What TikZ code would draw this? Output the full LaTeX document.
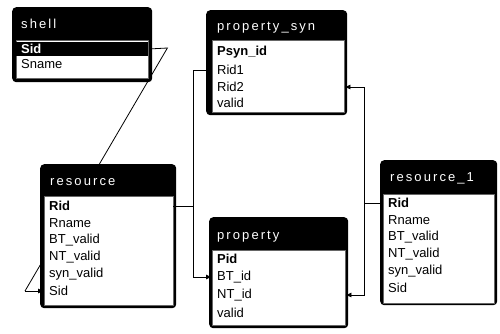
\documentclass[tikz,border=0pt]{standalone}
\usepackage{fontspec}
\setmainfont{Liberation Sans}
\newfontfamily\titlefont[LetterSpace=16]{Liberation Sans}
\usetikzlibrary{arrows.meta,backgrounds}

\tikzset{
  tablebox/.style={fill=black, rounded corners=4pt, inner sep=0pt, anchor=north west},
  fieldarea/.style={fill=white, draw=black!60, line width=0.6pt, inner sep=0pt, anchor=north west},
  tabletitle/.style={text=white, font=\titlefont\fontsize{13}{13}\selectfont, inner sep=0pt, anchor=west},
  field/.style={font=\fontsize{13}{13}\selectfont, inner xsep=5pt, inner ysep=0pt,
                minimum height=15pt, align=left, anchor=west},
  keyfield/.style={field, font=\bfseries\fontsize{13}{13}\selectfont},
  link/.style={draw=black, line width=0.8pt},
  fk/.style={link, -{Latex[length=6pt,width=5pt]}},
}

\begin{document}
\begin{tikzpicture}[x=1pt, y=-1pt]
\useasboundingbox (0,0) rectangle (500,333);

% ---- table: shell
\node[tablebox, minimum width=140pt, minimum height=75pt] (shell) at (12,7) {};
\node[tabletitle] (shell-title) at (21,24) {shell};
\node[fieldarea, minimum width=132pt, minimum height=38pt] (shell-area) at (16,40) {};
\begin{scope}[field/.append style={text width=122pt}]
  \node[keyfield, fill=black, text=white, minimum height=14pt] (shell-sid) at (16,49) {Sid};
  \node[field] (shell-sname) at (16,64) {Sname};
\end{scope}

% ---- table: property_syn
\node[tablebox, minimum width=141pt, minimum height=105pt] (psyn) at (206,10) {};
\node[tabletitle] (psyn-title) at (217,28) {property\_syn};
\node[fieldarea, minimum width=132pt, minimum height=72pt] (psyn-area) at (212,40) {};
\begin{scope}[field/.append style={text width=122pt}]
  \node[keyfield] (psyn-id) at (212,52) {Psyn\_id};
  \node[field] (psyn-rid1) at (212,70) {Rid1};
  \node[field] (psyn-rid2) at (212,87) {Rid2};
  \node[field] (psyn-valid) at (212,103) {valid};
\end{scope}

% ---- table: resource
\node[tablebox, minimum width=136pt, minimum height=144pt] (res) at (40,164) {};
\node[tabletitle] (res-title) at (50,182) {resource};
\node[fieldarea, minimum width=129pt, minimum height=109pt] (res-area) at (44,196) {};
\begin{scope}[field/.append style={text width=119pt}]
  \node[keyfield] (res-rid) at (44,206) {Rid};
  \node[field] (res-rname) at (44,223) {Rname};
  \node[field] (res-btvalid) at (44,240) {BT\_valid};
  \node[field] (res-ntvalid) at (44,257) {NT\_valid};
  \node[field] (res-synvalid) at (44,274) {syn\_valid};
  \node[field] (res-sid) at (44,291) {Sid};
\end{scope}

% ---- table: property
\node[tablebox, minimum width=139pt, minimum height=111pt] (prop) at (209,217) {};
\node[tabletitle] (prop-title) at (217,237) {property};
\node[fieldarea, minimum width=133pt, minimum height=75pt] (prop-area) at (212,250) {};
\begin{scope}[field/.append style={text width=123pt}]
  \node[keyfield] (prop-pid) at (212,259) {Pid};
  \node[field] (prop-btid) at (212,277) {BT\_id};
  \node[field] (prop-ntid) at (212,295) {NT\_id};
  \node[field] (prop-valid) at (212,313) {valid};
\end{scope}

% ---- table: resource_1
\node[tablebox, minimum width=117pt, minimum height=145pt] (res1) at (380,160) {};
\node[tabletitle] (res1-title) at (390,178) {resource\_1};
\node[fieldarea, minimum width=111pt, minimum height=109pt] (res1-area) at (383,194) {};
\begin{scope}[field/.append style={text width=101pt}]
  \node[keyfield] (res1-rid) at (383,203) {Rid};
  \node[field] (res1-rname) at (383,220) {Rname};
  \node[field] (res1-btvalid) at (383,237) {BT\_valid};
  \node[field] (res1-ntvalid) at (383,254) {NT\_valid};
  \node[field] (res1-synvalid) at (383,271) {syn\_valid};
  \node[field] (res1-sid) at (383,288) {Sid};
\end{scope}

% ---- shell.Sid -> resource.Sid (runs behind the tables)
\path (shell-sid.east) ++(19,-1) coordinate (sbend);
\path (res-sid.west) ++(-19,0) coordinate (sfoot);
\begin{pgfonlayer}{background}
  \draw[link] (shell-sid.east) -- (sbend) -- (sfoot);
\end{pgfonlayer}
\draw[fk] (sfoot) -- (res-sid.west);

% ---- resource.Rid -> property_syn.Rid1, property.BT_id
\path (res-rid.east) ++(20,0) coordinate (lbus);
\draw[link] (res-rid.east) -- (lbus);
\draw[fk] (lbus) |- (psyn-rid1.west);
\draw[fk] (lbus) |- (prop-btid.west);

% ---- resource_1.Rid -> property_syn.Rid2, property.NT_id
\path (res1-rid.west) ++(-19,0) coordinate (rbus);
\draw[link] (res1-rid.west) -- (rbus);
\draw[fk] (rbus) |- (psyn-rid2.east);
\draw[fk] (rbus) |- (prop-ntid.east);

\end{tikzpicture}
\end{document}
